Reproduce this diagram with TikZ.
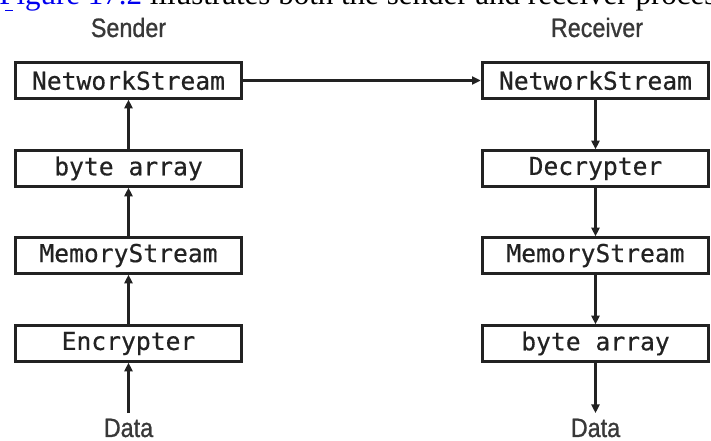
\documentclass[tikz,border=0pt]{standalone}
\usepackage{fontspec}
\usepackage{xcolor}
\usetikzlibrary{positioning, arrows.meta}
\setmainfont{Liberation Serif}
\newfontfamily\boxfont[FakeBold=0.5]{DejaVu Sans Mono}
\newfontfamily\labelfont[FakeStretch=0.88, FakeBold=0.9]{Liberation Sans}
\definecolor{inkgray}{HTML}{222222}
\definecolor{linkblue}{HTML}{0000EE}
\tikzset{
  stagebox/.style={draw=inkgray, line width=2.2pt, minimum width=170pt, minimum height=26.5pt,
    inner sep=0pt, text=inkgray, font=\boxfont\fontsize{18.5pt}{20pt}\selectfont},
  sidelabel/.style={text=inkgray!90, inner sep=0pt, font=\labelfont\fontsize{19.9pt}{22pt}\selectfont},
  flow/.style={draw=inkgray, line width=1.9pt, -{Triangle[length=6.5pt, width=6pt]}}
}
\begin{document}
\begin{tikzpicture}[x=0.75pt, y=-0.75pt]
      \useasboundingbox (0,0) rectangle (711,441);
      \clip (0,0) rectangle (711,441);

      % Cut-off text line above the figure
      \node[anchor=base west, inner sep=0pt, font=\fontsize{23.25pt}{26pt}\selectfont] (caption) at (-1,5)
        {\textcolor{linkblue}{Figure 17.2} illustrates both the sender and receiver process};
      \draw[linkblue, line width=0.8pt] (5,10.5) -- (13,10.5);

      % Sender side
      \node[sidelabel, anchor=base] (sender) at (128.5,37) {Sender};
      \node[stagebox] (snet) at (128.5,80.5) {NetworkStream};
      \node[stagebox] (sbyte) at (128.5,168.5) {byte array};
      \node[stagebox] (smem) at (128.5,255.5) {MemoryStream};
      \node[stagebox] (senc) at (128.5,343.5) {Encrypter};
      \node[sidelabel, anchor=base] (sdata) at (128.5,437) {Data};
      \draw[flow, shorten <=4pt] (sdata) -- (senc);
      \draw[flow] (senc) -- (smem);
      \draw[flow] (smem) -- (sbyte);
      \draw[flow] (sbyte) -- (snet);

      % Receiver side
      \node[sidelabel, anchor=base] (receiver) at (597,37) {Receiver};
      \node[stagebox] (rnet) at (595.5,80.5) {NetworkStream};
      \node[stagebox] (rdec) at (595.5,168.5) {Decrypter};
      \node[stagebox] (rmem) at (595.5,255.5) {MemoryStream};
      \node[stagebox] (rbyte) at (595.5,343.5) {byte array};
      \node[sidelabel, anchor=base] (rdata) at (595.5,437) {Data};
      \draw[flow] (rnet) -- (rdec);
      \draw[flow] (rdec) -- (rmem);
      \draw[flow] (rmem) -- (rbyte);
      \draw[flow, shorten >=4pt] (rbyte) -- (rdata);

      % Network link
      \draw[flow] (snet) -- (rnet);
    \end{tikzpicture}
\end{document}
